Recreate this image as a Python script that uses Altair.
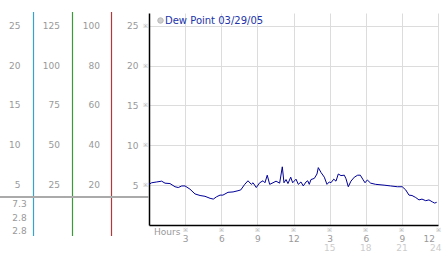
import altair as alt
import pandas as pd

# ---- data ----
hours = [0, 0.22, 0.64, 1.05, 1.33, 1.74, 2.16, 2.43, 2.72, 2.99, 3.40, 3.82, 4.24, 4.65,
         5.07, 5.34, 5.62, 5.90, 6.14, 6.56, 6.98, 7.39, 7.62, 7.95, 8.22, 8.50, 8.64, 8.91,
         9.19, 9.47, 9.63, 9.82, 10.02, 10.30, 10.55, 10.85, 11.07, 11.21, 11.38, 11.54,
         11.77, 11.93, 12.21, 12.40, 12.62, 12.81, 13.04, 13.18, 13.31, 13.45, 13.73, 13.95,
         14.06, 14.28, 14.56, 14.78, 14.97, 15.11, 15.34, 15.53, 15.72, 15.94, 16.22, 16.36,
         16.55, 16.77, 17.05, 17.33, 17.55, 17.75, 17.94, 18.13, 18.41, 18.83, 19.52, 20.07,
         20.62, 21.03, 21.32, 21.59, 21.84, 22.15, 22.42, 22.67, 22.98, 23.25, 23.53, 23.73,
         23.89]
dew = [5.1, 5.3, 5.4, 5.5, 5.25, 5.2, 4.8, 4.7, 4.9, 4.9, 4.5, 3.9, 3.7, 3.6,
       3.35, 3.25, 3.55, 3.75, 3.75, 4.1, 4.15, 4.3, 4.4, 5.1, 5.55, 5.1, 5.3, 4.7,
       5.3, 5.55, 5.3, 6.25, 5.1, 5.3, 5.5, 5.25, 7.3, 5.3, 5.7, 5.2,
       6.0, 5.3, 5.75, 5.1, 5.4, 4.9, 5.4, 5.55, 5.1, 5.7, 5.85, 6.4,
       7.2, 6.6, 6.0, 5.1, 5.4, 5.3, 5.75, 5.5, 6.4, 6.2, 6.25, 5.8,
       4.8, 5.5, 6.0, 6.25, 6.25, 5.75, 5.3, 5.65, 5.25, 5.1, 5.0, 4.9,
       4.8, 4.8, 4.4, 3.75, 3.7, 3.45, 3.15, 3.25, 3.05, 3.15, 2.9, 2.75,
       2.85]

y_ticks = [25, 20, 15, 10, 5]
col1_labels = ["25", "20", "15", "10", "5"]
col2_labels = ["125", "100", "75", "50", "25"]
col3_labels = ["100", "80", "60", "40", "20"]
summary_labels = ["7.3", "2.8", "2.8"]
x_ticks = [3, 6, 9, 12, 15, 18, 21, 24]
x_second_row = [15, 18, 21]
x_second_row_last = [24]
legend_label = "Dew Point 03/29/05"

FONT = "DejaVu Sans"
FS = 9
GRAY = "#999999"
LEFT, TOP = 149, 13

xs = alt.Scale(domain=[0, 24], nice=False, zero=False)
ys = alt.Scale(domain=[0, 26.6], nice=False, zero=False)

line_df = pd.DataFrame({"x": hours, "y": dew})

base_line = alt.Chart(line_df).mark_line(color="#000099", strokeWidth=1).encode(
    x=alt.X("x:Q", scale=xs, title=None,
            axis=alt.Axis(values=x_ticks, grid=True, gridColor="#dcdcdc", domainColor="black",
                          domainWidth=1.5, ticks=False, labelColor=GRAY, labelFont=FONT,
                          labelFontSize=FS, labelPadding=9, labelFlush=True,
                          labelFlushOffset=-3.5, labelOverlap=False,
                          labelExpr="datum.value > 12 ? '' + (datum.value - 12) : '' + datum.value")),
    y=alt.Y("y:Q", scale=ys, title=None,
            axis=alt.Axis(values=y_ticks, grid=True, gridColor="#dcdcdc", domainColor="black",
                          domainWidth=1.5, ticks=False, labelColor=GRAY, labelFont=FONT,
                          labelFontSize=FS, labelPadding=11)),
)

layers = [base_line]

# left label columns
for labels, right_px in [(col1_labels, 20.5), (col2_labels, 60), (col3_labels, 100)]:
    df = pd.DataFrame({"y": y_ticks, "t": labels})
    layers.append(alt.Chart(df).mark_text(align="right", baseline="middle", font=FONT,
                                          fontSize=FS, color=GRAY).encode(
        x=alt.value(right_px - LEFT), y=alt.Y("y:Q", scale=ys, title=None), text="t:N"))

# tiny markers on y axis
layers.append(alt.Chart(pd.DataFrame({"y": y_ticks})).mark_text(
    text="※", fontSize=6, color="#aaaaaa", baseline="middle").encode(
    x=alt.value(145 - LEFT), y=alt.Y("y:Q", scale=ys, title=None)))

# tiny markers on x axis
layers.append(alt.Chart(pd.DataFrame({"x": x_ticks})).mark_text(
    text="※", fontSize=6, color="#aaaaaa", baseline="middle").encode(
    x=alt.X("x:Q", scale=xs, title=None), y=alt.value(230 - TOP)))

# second row hour labels
layers.append(alt.Chart(pd.DataFrame({"x": x_second_row, "t": [str(v) for v in x_second_row]})).mark_text(
    fontSize=FS, font=FONT, color="#cccccc", baseline="middle").encode(
    x=alt.X("x:Q", scale=xs, title=None), y=alt.value(248 - TOP), text="t:N"))
layers.append(alt.Chart(pd.DataFrame({"x": x_second_row_last, "t": [str(v) for v in x_second_row_last]})).mark_text(
    fontSize=FS, font=FONT, color="#cccccc", baseline="middle", align="right", dx=3.5).encode(
    x=alt.X("x:Q", scale=xs, title=None), y=alt.value(248 - TOP), text="t:N"))

# "Hours" label
layers.append(alt.Chart(pd.DataFrame({"t": ["Hours"]})).mark_text(
    fontSize=FS, font=FONT, color=GRAY, align="left", baseline="middle").encode(
    x=alt.value(154 - LEFT), y=alt.value(232 - TOP), text="t:N"))

# summary labels (max / min / current)
for t, ypx in zip(summary_labels, [204, 217.5, 231]):
    layers.append(alt.Chart(pd.DataFrame({"t": [t]})).mark_text(
        fontSize=FS, font=FONT, color=GRAY, align="right", baseline="middle").encode(
        x=alt.value(26.7 - LEFT), y=alt.value(ypx - TOP), text="t:N"))

# colored vertical rules
for color, xpx in [("#3aa0d0", 33.5), ("#3a9a3a", 72.5), ("#b03a3a", 111.5)]:
    layers.append(alt.Chart(pd.DataFrame({"a": [0]})).mark_rule(color=color, strokeWidth=1.2).encode(
        x=alt.value(xpx - LEFT), y=alt.value(12 - TOP), y2=alt.value(236 - TOP)))

# gray separator
layers.append(alt.Chart(pd.DataFrame({"a": [0]})).mark_rule(color="#aaaaaa", strokeWidth=2).encode(
    x=alt.value(-LEFT), x2=alt.value(0), y=alt.value(197 - TOP)))

# legend
layers.append(alt.Chart(pd.DataFrame({"a": [0]})).mark_point(
    shape="circle", size=30, filled=True, color="#bbbbbb", stroke="#999999", strokeWidth=1).encode(
    x=alt.value(160.5 - LEFT), y=alt.value(20.5 - TOP)))
layers.append(alt.Chart(pd.DataFrame({"t": [legend_label]})).mark_text(
    fontSize=FS + 1, font=FONT, color="#2233aa", align="left", baseline="middle").encode(
    x=alt.value(165 - LEFT), y=alt.value(20.7 - TOP), text="t:N"))

chart = alt.layer(*layers).properties(
    width=289, height=212,
    autosize=alt.AutoSizeParams(type="none"),
    padding={"left": LEFT, "top": TOP, "right": 4, "bottom": 28},
    background="white",
).configure_view(stroke=None)

chart.save("out.html", embed_options={"renderer": "svg", "actions": False})
